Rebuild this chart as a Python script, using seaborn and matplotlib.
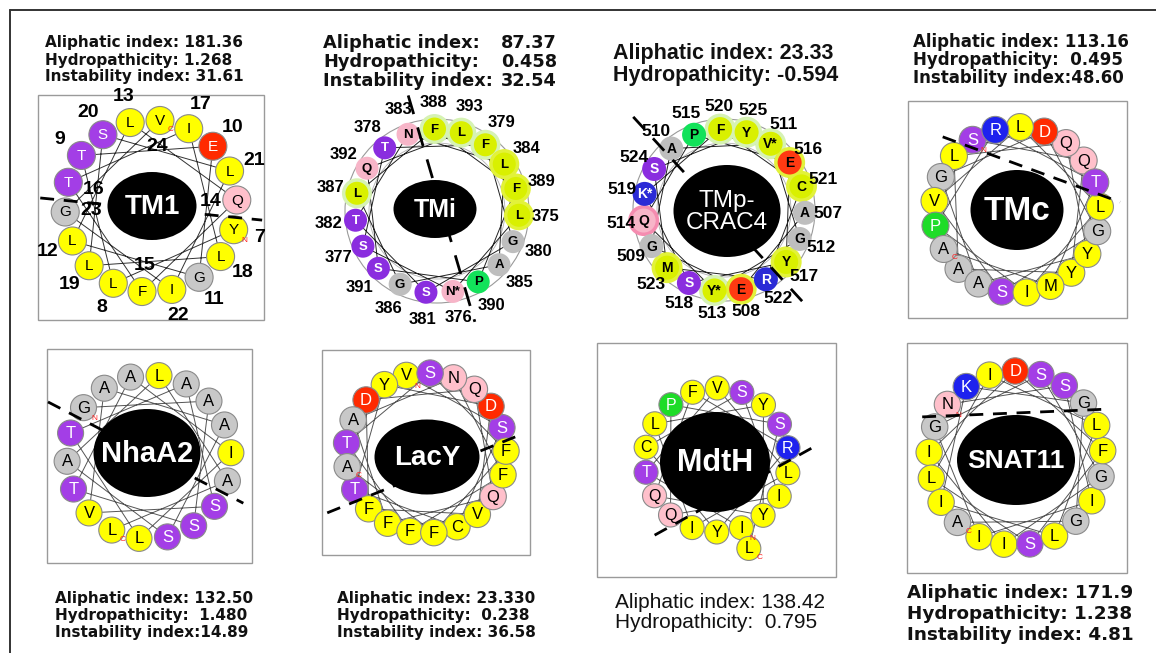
import numpy as np
import pandas as pd
import matplotlib
matplotlib.use("Agg")
import matplotlib.pyplot as plt
from matplotlib.patches import Ellipse, Circle, Rectangle
import seaborn as sns

sns.set_theme(style="white")
plt.rcParams["font.family"] = ["Liberation Sans", "DejaVu Sans"]

# ---------------------------------------------------------------- data
# sequences, N -> C
tm1_seq = list("YLTEGLLQFTILLSLIGV")
tm1_first = 7
tmi_seq = ["L", "N*", "S", "T", "F", "G", "S", "T", "N", "L",
           "A", "G", "L", "F", "F", "P", "S", "Q", "L"]
tmi_first = 375
tmp_seq = ["A", "E", "G", "A", "V*", "G", "Y*", "Q", "P", "E",
           "Y", "S", "K*", "F", "C", "R", "M", "S", "Y"]
tmp_first = 507
tmc_seq = list("SQYALQYAGDGSVLLIPRTMA")
nhaa2_seq = list("GASTAILTASVAASALAL")
lacy_seq = list("VSCTYDVFDQQFANFFTSFFA")
mdth_seq = list("ITVLILYYQFRYCSIQPSL")
snat11_seq = list("NSIIGSGIIDFSLILLIKGGA")

# residue numbers drawn inside the TM1 ring
tm1_inner_numbers = [14, 15, 16, 23, 24]
# residues with a highlighted rim (TMi / TMp)
tmi_rim = {379: "pale", 387: "pale", 388: "pale", 393: "pale",
           375: "strong", 384: "strong", 389: "strong"}
tmp_rim = {511: "pale", 513: "pale", 520: "pale", 525: "pale",
           521: "strong", 517: "strong", 523: "strong",
           514: "pink", 508: "strong", 516: "strong"}

# physico-chemical indices
tm1_text = ["Aliphatic index: 181.36", "Hydropathicity: 1.268", "Instability index: 31.61"]
tmi_text = [("Aliphatic index:", "87.37"), ("Hydropathicity:", "0.458"),
            ("Instability index:", "32.54")]
tmp_text = ["Aliphatic index: 23.33", "Hydropathicity: -0.594"]
tmc_text = ["Aliphatic index: 113.16", "Hydropathicity:  0.495", "Instability index:48.60"]
nhaa2_text = ["Aliphatic index: 132.50", "Hydropathicity:  1.480", "Instability index:14.89"]
lacy_text = ["Aliphatic index: 23.330", "Hydropathicity:  0.238", "Instability index: 36.58"]
mdth_text = ["Aliphatic index: 138.42", "Hydropathicity:  0.795"]
snat11_text = ["Aliphatic index: 171.9", "Hydropathicity: 1.238", "Instability index: 4.81"]

# ---------------------------------------------------------------- styles
CLASS = {"A": "np", "G": "np", "L": "hp", "I": "hp", "V": "hp", "F": "hp",
         "M": "hp", "Y": "hp", "C": "hp", "W": "hp", "S": "pol", "T": "pol",
         "N": "amd", "Q": "amd", "D": "acd", "E": "acd", "K": "bas",
         "R": "bas", "H": "bas", "P": "pro"}
PAL_A = {"hp": "#FFFF00", "np": "#C8C8C8", "pol": "#A33EE6", "amd": "#FFC0CB",
         "acd": "#FF2A00", "bas": "#1E22EE", "pro": "#1EDC28"}
WHITE_A = {"pol", "acd", "bas", "pro"}
PAL_B = {"hp": "#D9F000", "np": "#BEBEBE", "pol": "#8A2DDF", "amd": "#F7B5C8",
         "acd": "#FF3A12", "bas": "#2B2BD6", "pro": "#12E25A"}
WHITE_B = {"pol", "bas"}
RIM_B = {"pale": "#D6F2B4", "strong": "#E2F23A", "pink": "#F58CB0"}

W, H = 1156, 653
fig = plt.figure(figsize=(W / 100, H / 100), dpi=100)
ax = fig.add_axes([0, 0, 1, 1])
ax.set_facecolor("white")


def px2pt(r):
    return (2 * r * 0.72) ** 2


def wheel_xy(n, slots, step, a0, cx, cy, R, R2):
    k = np.arange(n)
    ang = np.deg2rad(a0 + ((k * step) % slots) * 360.0 / slots)
    rr = np.where(k >= slots, R2, R)
    return cx + rr * np.cos(ang), cy + rr * np.sin(ang), ang


def draw_header(lines, x0, y0, dy, size, family, weight, x1=None):
    for i, ln in enumerate(lines):
        y = y0 + i * dy
        if isinstance(ln, tuple):
            ax.text(x0, y, ln[0], ha="left", va="center", fontsize=size,
                    family=family, weight=weight, color="#111111")
            ax.text(x1, y, ln[1], ha="right", va="center", fontsize=size,
                    family=family, weight=weight, color="#111111")
        else:
            ax.text(x0, y, ln, ha="left", va="center", fontsize=size,
                    family=family, weight=weight, color="#111111")


def draw_divider(cx, cy, a, off, t1, t2, dash=(5, 3.5), lw=2.0):
    d = np.array([np.cos(np.deg2rad(a)), np.sin(np.deg2rad(a))])
    nrm = np.array([-d[1], d[0]])
    p1 = np.array([cx, cy]) + off * nrm + t1 * d
    p2 = np.array([cx, cy]) + off * nrm + t2 * d
    ax.plot([p1[0], p2[0]], [p1[1], p2[1]], color="black", lw=lw,
            dashes=dash, zorder=4, solid_capstyle="butt")


def draw_core(cx, cy, w, h, label, size, weight="bold"):
    ax.add_patch(Ellipse((cx, cy), w, h, facecolor="black", edgecolor="none", zorder=5))
    ax.text(cx, cy + 1, label, ha="center", va="center", color="white",
            fontsize=size, weight=weight, zorder=6, linespacing=1.0)


def wheel_A(seq, slots, step, a0, cx, cy, R, r, fsize, line_col="#555555",
            R2=None, nc=True):
    x, y, ang = wheel_xy(len(seq), slots, step, a0, cx, cy, R, R2 or R)
    ax.plot(x, y, color=line_col, lw=0.7, zorder=1)
    df = pd.DataFrame({"x": x, "y": y, "cls": [CLASS[s[0]] for s in seq]})
    sns.scatterplot(data=df, x="x", y="y", hue="cls", palette=PAL_A, s=px2pt(r),
                    edgecolor="#8a8a8a", linewidth=0.8, legend=False, ax=ax, zorder=3)
    for xi, yi, s, c in zip(x, y, seq, df["cls"]):
        ax.text(xi, yi + 0.5, s, ha="center", va="center", fontsize=fsize,
                color="white" if c in WHITE_A else "black", zorder=3.5)
    if nc:
        ax.text(x[0] + 11, y[0] + 11, "N", color="#FF2020", fontsize=6,
                ha="center", va="center", zorder=3.6)
        ax.text(x[-1] + 11, y[-1] + 9, "C", color="#FF2020", fontsize=6,
                ha="center", va="center", zorder=3.6)
    return x, y, ang


def wheel_B(seq, first, rim, a0, cx, cy, R, r, fsize, Rnum, nsize):
    n = len(seq)
    x, y, ang = wheel_xy(n, n, 4, a0, cx, cy, R, R)
    ax.add_patch(Circle((cx, cy), R + 10, fill=False, ec="#9a9a9a", lw=0.8, zorder=0.5))
    ax.add_patch(Circle((cx, cy), R - 14, fill=False, ec="#b0b0b0", lw=0.6, zorder=0.5))
    ax.plot(x, y, color="#222222", lw=0.7, zorder=1)
    nums = np.arange(first, first + n)
    cls = [CLASS[s[0]] for s in seq]
    df = pd.DataFrame({"x": x, "y": y, "cls": cls, "num": nums})
    rim_df = df[df["num"].isin(list(rim))].copy()
    rim_df["rim"] = [rim[v] for v in rim_df["num"]]
    for kind, col in RIM_B.items():
        sub = rim_df[rim_df["rim"] == kind]
        if len(sub):
            sns.scatterplot(data=sub, x="x", y="y", color=col, s=px2pt(r + 3.5),
                            edgecolor="none", legend=False, ax=ax, zorder=2)
    sns.scatterplot(data=df, x="x", y="y", hue="cls", palette=PAL_B, s=px2pt(r),
                    edgecolor="none", legend=False, ax=ax, zorder=3)
    for xi, yi, s, c in zip(x, y, seq, cls):
        ax.text(xi, yi + 0.5, s, ha="center", va="center", fontsize=fsize,
                weight="bold", color="white" if c in WHITE_B else "black", zorder=3.5)
    for a, nm in zip(ang, nums):
        ax.text(cx + Rnum * np.cos(a), cy + Rnum * np.sin(a), str(nm), ha="center",
                va="center", fontsize=nsize, weight="bold", color="black", zorder=3.5)


# ---------------------------------------------------------------- frame
ax.plot([10, 10], [10, H], color="#333333", lw=1.4, zorder=0)
ax.plot([10, W], [10, 10], color="#333333", lw=1.4, zorder=0)
for (bx0, by0, bx1, by1) in [(38, 95, 264, 320), (908, 101, 1127, 318),
                             (47, 349, 252, 563), (322, 350, 530, 555),
                             (597, 343, 836, 577), (907, 343, 1127, 573)]:
    ax.add_patch(Rectangle((bx0, by0), bx1 - bx0, by1 - by0, fill=False,
                           ec="#9a9a9a", lw=1.0, zorder=0.2))

# ---------------------------------------------------------------- TM1
cx, cy = 151, 206
x, y, ang = wheel_A(tm1_seq, 18, 5, 16, cx, cy, 86, 14, 11, line_col="#333333")
for a, k in zip(ang, range(len(tm1_seq))):
    num = tm1_first + k
    rr = 60 if num in tm1_inner_numbers else 113
    ax.text(cx + rr * np.cos(a), cy + rr * np.sin(a), str(num), ha="center",
            va="center", fontsize=14, weight="bold", color="black", zorder=3.5)
draw_divider(cx, cy, 5.7, 3, -111, 112)
draw_core(152, 206, 89, 68, "TM1", 20)
draw_header(tm1_text, 45, 43, 17, 11, "DejaVu Sans", "bold")

# ---------------------------------------------------------------- TMi
wheel_B(tmi_seq, tmi_first, tmi_rim, 3, 437, 211, 82, 11.5, 9.5, 109, 12)
draw_divider(437, 211, 73.6, -5, -119, 117, dash=(7, 5))
draw_core(435, 209, 83, 58, "TMi", 18)
draw_header(tmi_text, 323, 43, 19, 12.8, "DejaVu Sans", "bold", x1=557)

# ---------------------------------------------------------------- TMp-CRAC4
wheel_B(tmp_seq, tmp_first, tmp_rim, 2, 724, 210, 81, 12, 10, 104, 12.5)
draw_divider(724, 210, 47.5, 4, -130, 128, dash=(6, 4.5))
draw_core(727, 211, 107, 92, "TMp-\nCRAC4", 17.5, weight="normal")
draw_header(tmp_text, 613, 54, 21, 15.5, "Liberation Sans", "bold")

# ---------------------------------------------------------------- TMc
draw_divider(1017, 210, 20.2, -43, -95, 94)
wheel_A(tmc_seq, 21, 5, 237.7, 1017, 210, 83, 13.5, 12)
draw_core(1017, 210, 93, 80, "TMc", 24)
draw_header(tmc_text, 913, 42, 18, 12, "DejaVu Sans", "bold")

# ---------------------------------------------------------------- NhaA2
wheel_A(nhaa2_seq, 18, 5, 217, 149, 457, 82, 13, 12)
draw_divider(149, 457, 27.4, -2.4, -115, 105)
draw_core(147, 453, 107, 88, "NhaA2", 21)
draw_header(nhaa2_text, 55, 598, 17.5, 11, "DejaVu Sans", "bold")

# ---------------------------------------------------------------- LacY
wheel_A(lacy_seq, 21, 5, 255.8, 426, 453, 80, 13.2, 12)
draw_divider(426, 453, -22, 18.5, -114, 91)
draw_core(427, 457, 105, 75, "LacY", 20)
draw_header(lacy_text, 337, 598, 17.5, 11, "DejaVu Sans", "bold")

# ---------------------------------------------------------------- MdtH
wheel_A(mdth_seq, 18, 5, 70.2, 717, 460, 72, 12, 11.5, R2=94)
draw_divider(717, 460, -29, 35.5, -91, 92)
draw_core(715, 462, 110, 100, "MdtH", 22)
draw_header(mdth_text, 615, 603, 19, 15, "Liberation Sans", "normal")

# ---------------------------------------------------------------- SNAT11
wheel_A(snat11_seq, 21, 5, 218, 1016, 458, 87, 13.2, 12)
draw_divider(1016, 458, -2.4, -45, -92, 96)
draw_core(1016, 460, 118, 90, "SNAT11", 19)
draw_header(snat11_text, 907, 593, 21, 13.2, "DejaVu Sans", "bold")

ax.set_xlim(0, W)
ax.set_ylim(H, 0)
ax.axis("off")
fig.savefig("out.png", dpi=100, facecolor="white")
